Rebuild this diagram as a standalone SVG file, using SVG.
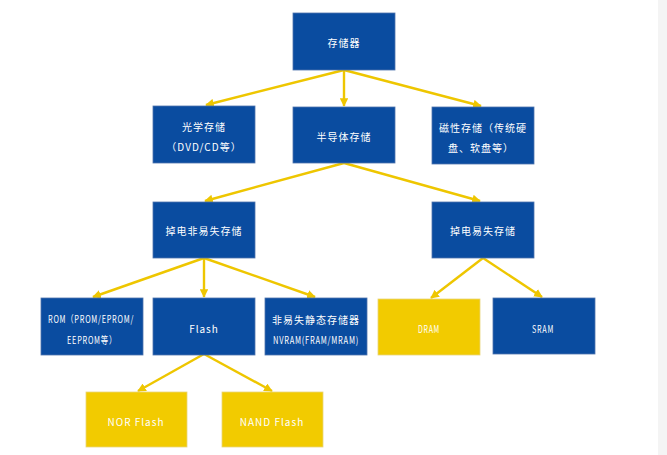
<svg xmlns="http://www.w3.org/2000/svg" width="667" height="455" viewBox="0 0 667 455">
<defs>
<style>
.b{fill:#0a4ca0;stroke:#4f74ad;stroke-width:0.8}
.y{fill:#f2cb00;stroke:#e9d47a;stroke-width:0.8}
.t{fill:#ffffff;font-family:"Noto Sans CJK SC","DejaVu Sans",sans-serif;font-size:10px;text-anchor:middle;dominant-baseline:central;letter-spacing:1px}
.c{fill:none;stroke:#eec600;stroke-width:2.4;marker-end:url(#ah)}
</style>
<marker id="ah" viewBox="0 0 10 10" refX="9" refY="5" markerWidth="3.6" markerHeight="3.6" orient="auto" markerUnits="strokeWidth">
<path d="M0,0 L10,5 L0,10 z" fill="#eec600"/>
</marker>
</defs>
<rect width="667" height="455" fill="#ffffff"/>
<rect x="658" y="0" width="9" height="455" fill="#f4f4f4"/>
<g id="connectors">
<line class="c" x1="344" y1="70" x2="206" y2="105"/>
<line class="c" x1="344" y1="70" x2="344" y2="106"/>
<line class="c" x1="344" y1="70" x2="481" y2="106"/>
<line class="c" x1="344" y1="163" x2="205" y2="201"/>
<line class="c" x1="344" y1="163" x2="480" y2="201"/>
<line class="c" x1="204" y1="258" x2="93" y2="297"/>
<line class="c" x1="204" y1="258" x2="204" y2="297"/>
<line class="c" x1="204" y1="258" x2="315" y2="297"/>
<line class="c" x1="483" y1="258" x2="431" y2="298"/>
<line class="c" x1="483" y1="258" x2="542" y2="297"/>
<line class="c" x1="204" y1="354" x2="138" y2="391"/>
<line class="c" x1="204" y1="354" x2="272" y2="391"/>
</g>
<g id="n-root"><rect class="b" x="293" y="13" width="102" height="57"/><text class="t" x="344" y="42">存储器</text></g>
<g id="n-optical"><rect class="b" x="153" y="106" width="102" height="57"/><text class="t" x="204" y="126">光学存储</text><text class="t" x="204" y="146" letter-spacing="0.3">（DVD/CD等）</text></g>
<g id="n-semi"><rect class="b" x="293" y="107" width="102" height="56"/><text class="t" x="344" y="136">半导体存储</text></g>
<g id="n-magnetic"><rect class="b" x="432" y="107" width="102" height="57"/><text class="t" x="483" y="127" letter-spacing="0.2">磁性存储（传统硬</text><text class="t" x="481" y="147">盘、软盘等）</text></g>
<g id="n-nonvolatile"><rect class="b" x="153" y="202" width="102" height="56"/><text class="t" x="204" y="230">掉电非易失存储</text></g>
<g id="n-volatile"><rect class="b" x="432" y="202" width="102" height="56"/><text class="t" x="483" y="230">掉电易失存储</text></g>
<g id="n-rom"><rect class="b" x="41" y="298" width="102" height="57"/><text class="t" x="91" y="318" letter-spacing="0" textLength="86" lengthAdjust="spacingAndGlyphs">ROM（PROM/EPROM/</text><text class="t" x="92" y="339" letter-spacing="0" textLength="50" lengthAdjust="spacingAndGlyphs">EEPROM等）</text></g>
<g id="n-flash"><rect class="b" x="153" y="298" width="102" height="57"/><text class="t" x="204" y="328">Flash</text></g>
<g id="n-nvram"><rect class="b" x="265" y="298" width="102" height="57"/><text class="t" x="316" y="319">非易失静态存储器</text><text class="t" x="316" y="339" letter-spacing="0" textLength="86" lengthAdjust="spacingAndGlyphs">NVRAM(FRAM/MRAM)</text></g>
<g id="n-dram"><rect class="y" x="378" y="299" width="102" height="56"/><text class="t" x="429" y="328" letter-spacing="0" textLength="22" lengthAdjust="spacingAndGlyphs">DRAM</text></g>
<g id="n-sram"><rect class="b" x="493" y="298" width="102" height="56"/><text class="t" x="543" y="328" letter-spacing="0" textLength="22" lengthAdjust="spacingAndGlyphs">SRAM</text></g>
<g id="n-nor"><rect class="y" x="86" y="392" width="101" height="55"/><text class="t" x="136" y="421">NOR Flash</text></g>
<g id="n-nand"><rect class="y" x="222" y="392" width="101" height="55"/><text class="t" x="272" y="421">NAND Flash</text></g>
</svg>
